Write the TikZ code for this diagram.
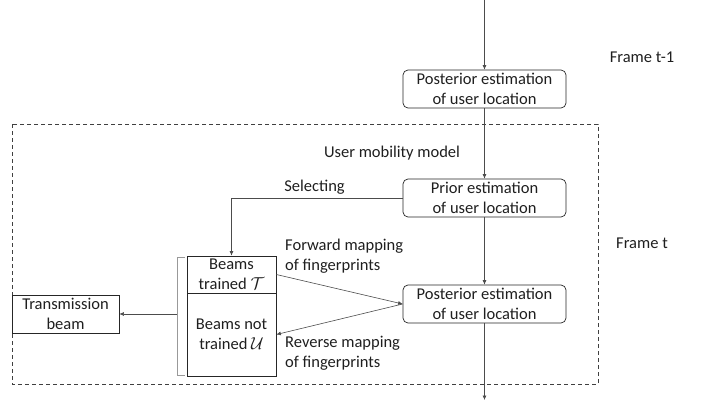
\documentclass[tikz,border=0pt]{standalone}
\usepackage{fontspec}
\setmainfont{Carlito}
\usetikzlibrary{arrows.meta,calc}
\begin{document}
\begin{tikzpicture}[x=1pt,y=-1pt,
  every node/.style={font=\fontsize{16.5}{20.5}\selectfont, text=black!88},
  rbox/.style={draw=black!85, line width=0.7pt, rounded corners=5pt, minimum width=163pt, minimum height=38pt, align=center, inner sep=0pt},
  sbox/.style={draw=black!85, line width=0.7pt, align=center, inner sep=0pt},
  conn/.style={draw=black!70, line width=0.6pt, -{Latex[length=4.5pt,width=4pt]}},
  lbl/.style={align=left, inner sep=0pt, anchor=west},
]
\useasboundingbox (0,0) rectangle (702,407);
% dashed frame
\draw[black!75, line width=0.7pt, dash pattern=on 4pt off 3pt] (12,124) rectangle (598,384);

\node[rbox] (post1) at (484.5,89) {Posterior estimation\\of user location};
\node[rbox] (prior) at (484.5,198) {Prior estimation\\of user location};
\node[rbox] (post2) at (484.5,304) {Posterior estimation\\of user location};

\node[sbox, minimum width=89pt, minimum height=37pt] (btr) at (231.5,274.5) {Beams\\trained $\mathcal{T}$};
\node[sbox, minimum width=89pt, minimum height=83pt] (bnt) at (231.5,334.5) {Beams not\\trained $\mathcal{U}$};
\node[sbox, minimum width=107pt, minimum height=38pt] (trans) at (65.5,314) {Transmission\\beam};

\node (f1) at (642,57) {Frame t-1};
\node (f2) at (642,243) {Frame t};
\node (umm) at (392,153) {User mobility model};
\node (sel) at (314.5,187) {Selecting};
\node[lbl] (fwd) at (285,256) {Forward mapping\\of fingerprints};
\node[lbl] (rev) at (285,353) {Reverse mapping\\of fingerprints};

\coordinate (top) at (484.5,0);
\coordinate (bot) at (484.5,400);
\coordinate (brk) at (177,314);

% bracket
\draw[black!40, line width=0.8pt] (185,257) -- (177,257) -- (177,375) -- (185,375);

\draw[conn] (top) -- (post1.north);
\draw[conn] (post1.south) -- (prior.north);
\draw[conn] (prior.south) -- (post2.north);
\draw[conn] (post2.south) -- (bot);
\draw[conn] (prior.west) -| (btr.north);
\draw[conn] (btr.east) -- (post2.west);
\draw[conn] (post2.west) -- (bnt.east);
\draw[conn] (brk) -- (trans.east);
\end{tikzpicture}
\end{document}
